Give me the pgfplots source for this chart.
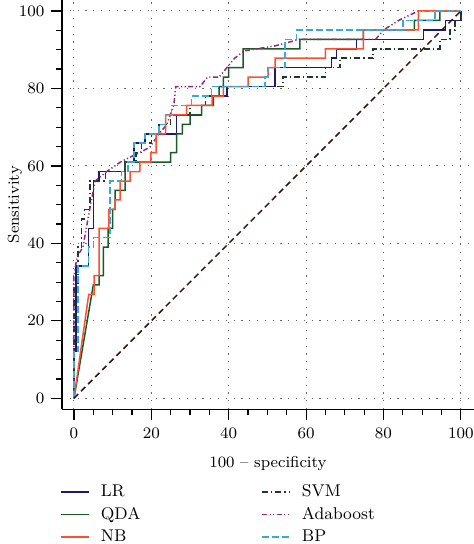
\documentclass[border=0pt]{standalone}
\usepackage{pgfplots}
\pgfplotsset{compat=1.18}
\definecolor{cLR}{HTML}{1A1A72}
\definecolor{cQDA}{HTML}{1B5A28}
\definecolor{cNB}{HTML}{FF4F2F}
\definecolor{cSVM}{HTML}{1C3A26}
\definecolor{cADA}{HTML}{8E2A7A}
\definecolor{cBP}{HTML}{3AA9D4}
\definecolor{cDIAG}{HTML}{3D1010}
\begin{document}
\begin{tikzpicture}[font=\fontsize{8.5}{10}\selectfont]
\begin{axis}[
  scale only axis, width=206pt, height=204.65pt,
  xmin=-3.1, xmax=103.4, ymin=-2.84, ymax=102.84,
  axis x line*=bottom, axis y line*=left,
  axis line style={line width=0.6pt},
  xtick={0,20,...,100}, ytick={0,20,...,100},
  minor tick num=3,
  tick align=outside, major tick length=5.3pt, minor tick length=3pt,
  tick style={line width=0.6pt, black},
  xticklabel style={yshift=-0.5pt},
  grid=major,
  major grid style={gray!80!black, line width=0.5pt, dash pattern=on 0.6pt off 3.3pt},
  xlabel={100 -- specificity}, ylabel={Sensitivity},
  xlabel style={yshift=-2pt, font=\fontsize{7.9}{9.5}\selectfont},
  ylabel style={at={(axis description cs:0,0.5)}, anchor=center, yshift=23.5pt, font=\fontsize{7.9}{9.5}\selectfont},
  every axis plot/.append style={line width=0.75pt},
  legend columns=2,
  legend cell align=left,
  legend image code/.code={\draw[#1] (0pt,0pt) -- (14pt,0pt);},
  legend style={at={(0,0)}, anchor=north west, yshift=-36pt, xshift=-1pt, draw=none, fill=none,
    inner sep=0pt, row sep=0.75pt,
    nodes={inner sep=1pt, text height=6.5pt, text depth=2pt},
    /tikz/every odd column/.append style={column sep=4.5pt},
    /tikz/every even column/.append style={column sep=59.5pt}},
]
\addplot[cLR] coordinates {(0,0)(0,12.2)(0.5,12.2)(0.5,34.1)(3.7,34.1)(3.7,43.9)(5,43.9)(5,56.1)(6.5,56.1)(6.5,58.5)(13.2,58.5)(13.2,61)(15.5,61)(15.5,65.9)(18.3,65.9)(18.3,68.3)(26.5,68.3)(26.5,73.2)(33,73.2)(33,75.6)(36,75.6)(36,78)(39.5,78)(39.5,80.5)(52,80.5)(52,85.4)(66.6,85.4)(66.6,87.8)(67.9,87.8)(67.9,90.2)(73,90.2)(73,92.7)(90.4,92.7)(90.4,95.1)(96,95.1)(96,97.6)(100,97.6)(100,100)};
\addlegendentry{LR}
\addplot[cSVM, dash pattern=on 3pt off 1.5pt on 0.6pt off 1.5pt] coordinates {(0,0)(0,29.3)(1.1,29.3)(1.1,39)(2,39)(2,46.3)(2.7,46.3)(2.7,48.8)(4.2,48.8)(4.2,56.1)(8.2,56.1)(8.2,58.5)(13,58.5)(13,61)(16,61)(16,63.4)(17.5,63.4)(17.5,65.9)(20,65.9)(20,68.3)(22,68.3)(22,70.7)(25,70.7)(25,73.2)(30,73.2)(30,75.6)(34,75.6)(34,78)(38.6,78)(38.6,80.5)(54,80.5)(54,82.9)(65,82.9)(65,85.4)(68.7,85.4)(68.7,87.8)(77.3,87.8)(77.3,90.2)(94.6,90.2)(94.6,92.7)(97.2,92.7)(97.2,95.1)(98.5,95.1)(98.5,97.6)(100,97.6)(100,100)};
\addlegendentry{SVM}
\addplot[cQDA] coordinates {(0,0)(5,29.3)(6.5,29.3)(6.5,31.7)(7.6,31.7)(7.6,39)(8.8,39)(8.8,43.9)(10,43.9)(10,48.8)(10.6,48.8)(10.6,53.7)(13.2,53.7)(13.2,61)(25,61)(25,63.4)(26.5,63.4)(26.5,68.3)(28,68.3)(28,70.7)(30,70.7)(30,73.2)(33,73.2)(33,75.6)(36,75.6)(36,78)(37.5,78)(37.5,80.5)(38.6,80.5)(38.6,82.9)(40,82.9)(40,85.4)(43.7,85.4)(43.7,90.2)(58.4,90.2)(58.4,92.7)(74.8,92.7)(74.8,95.1)(88,95.1)(88,97.6)(94.6,97.6)(94.6,100)(100,100)};
\addlegendentry{QDA}
\addplot[cADA, dash pattern=on 2.5pt off 1.2pt on 0.6pt off 1.2pt on 0.6pt off 1.2pt] coordinates {(0,0)(0,31.7)(0.8,36.6)(2.3,39)(4.5,51.2)(5.5,56.1)(8.4,58.5)(12,61)(19.6,64.8)(22,68.3)(24,70.7)(25.8,75.6)(26.3,80.5)(32.6,80.5)(34.5,82.9)(37.5,82.9)(41.5,87.8)(44,89.7)(52,91)(58.4,92.7)(78,92.7)(80,95.1)(84,97.6)(89,100)(100,100)};
\addlegendentry{Adaboost}
\addplot[cNB] coordinates {(0,0)(3.8,26.8)(5.2,26.8)(5.2,31.7)(6.5,31.7)(6.5,43.9)(9,43.9)(9,48.8)(10.6,48.8)(10.6,51.2)(11.9,51.2)(11.9,56.1)(14.5,56.1)(14.5,58.5)(17,58.5)(17,61)(19.9,61)(19.9,63.4)(21.2,63.4)(21.2,68.3)(23.7,68.3)(23.7,73.2)(29.1,73.2)(29.1,75.6)(35.7,75.6)(35.7,78)(38.6,78)(38.6,80.5)(45,80.5)(45,82.9)(50.2,82.9)(50.2,85.4)(52,85.4)(52,87.8)(65,87.8)(65,90.2)(74.8,90.2)(74.8,95.1)(89,95.1)(89,100)(100,100)};
\addlegendentry{NB}
\addplot[cBP, dash pattern=on 3.5pt off 1.5pt] coordinates {(0,0)(0,12.2)(1.1,12.2)(1.1,34.1)(3.7,34.1)(3.7,39)(5,39)(5,41.5)(9.3,41.5)(9.3,56.1)(12.3,56.1)(12.3,58.5)(14,58.5)(14,61)(15.5,61)(15.5,65.9)(18.3,65.9)(18.3,68.3)(22,68.3)(22,70.7)(23.7,70.7)(23.7,73.2)(25.2,73.2)(25.2,75.6)(30.4,75.6)(30.4,78)(35.6,78)(35.6,80.5)(49.4,80.5)(49.4,82.9)(50.2,82.9)(50.2,85.4)(54.5,85.4)(54.5,92.7)(57.5,92.7)(57.5,95.1)(85,95.1)(85,97.6)(93.3,97.6)(93.3,100)(100,100)};
\addlegendentry{BP}
\addplot[cDIAG, dash pattern=on 3pt off 2pt, forget plot] coordinates {(0,0)(100,100)};
\end{axis}
\pgfresetboundingbox
\path[use as bounding box] (current axis.south west) ++(-31pt,-67.35pt) rectangle ++(237pt,272pt);
\end{tikzpicture}
\end{document}
